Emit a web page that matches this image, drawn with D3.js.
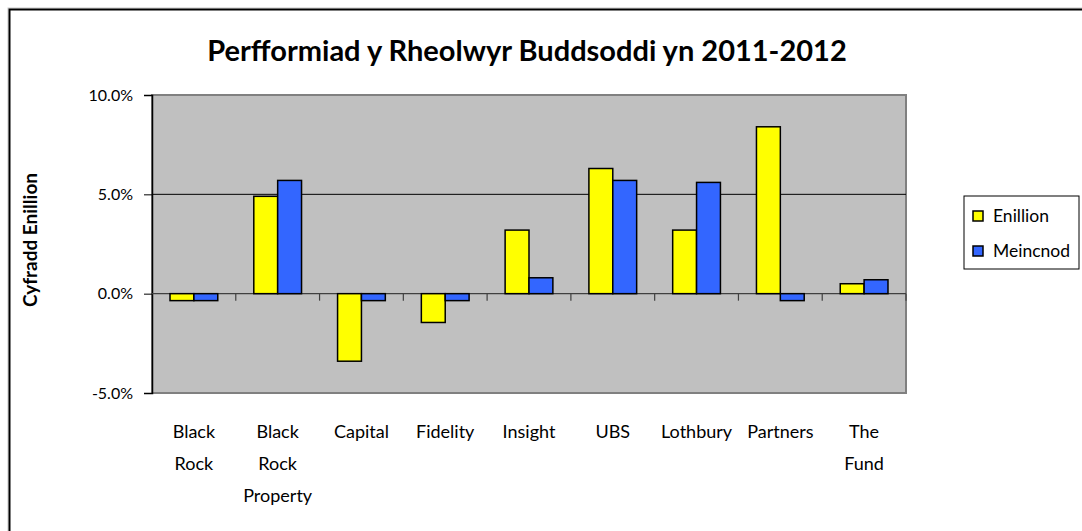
<!DOCTYPE html>
<html>
<head>
<meta charset="utf-8">
<script src="https://cdn.jsdelivr.net/npm/d3@7"></script>
<style>
  body { margin: 0; background: #fff; }
  text { font-family: Lato, "Open Sans", sans-serif; fill: #000; }
</style>
</head>
<body>
<svg id="chart" width="1082" height="531"></svg>
<script>
"use strict";

// chart data
var managers = [
  ["Black", "Rock"],
  ["Black", "Rock", "Property"],
  ["Capital"],
  ["Fidelity"],
  ["Insight"],
  ["UBS"],
  ["Lothbury"],
  ["Partners"],
  ["The", "Fund"]
];
var seriesNames = ["Enillion", "Meincnod"];
var enillion = [-0.35, 4.9, -3.4, -1.45, 3.2, 6.3, 3.2, 8.4, 0.5];
var meincnod = [-0.35, 5.7, -0.35, -0.35, 0.8, 5.7, 5.6, -0.35, 0.7];
var yTicks = [-5, 0, 5, 10];
var colors = ["#ffff00", "#3366ff"];

var svg = d3.select("#chart");

// outer chart border (cut off on right/bottom)
svg.append("rect")
  .attr("x", 8).attr("y", 8)
  .attr("width", 1200).attr("height", 600)
  .attr("fill", "none").attr("stroke", "#c8c8c8").attr("stroke-width", 1);
svg.append("rect")
  .attr("x", 9.5).attr("y", 9.5)
  .attr("width", 1200).attr("height", 600)
  .attr("fill", "none").attr("stroke", "#000").attr("stroke-width", 2);

var margin = { left: 152, top: 95, right: 906, bottom: 393 };

var x = d3.scaleBand()
  .domain(d3.range(managers.length))
  .range([margin.left, margin.right])
  .paddingInner(0.43).paddingOuter(0.215);

var x1 = d3.scaleBand()
  .domain(seriesNames)
  .range([0, x.bandwidth()]);

var y = d3.scaleLinear()
  .domain([-5, 10])
  .range([margin.bottom, margin.top]);

// plot area
svg.append("rect")
  .attr("x", margin.left).attr("y", margin.top)
  .attr("width", margin.right - margin.left)
  .attr("height", margin.bottom - margin.top)
  .attr("fill", "#c0c0c0")
  .attr("stroke", "#808080").attr("stroke-width", 2);

// gridlines
svg.append("g").selectAll("line")
  .data([5])
  .enter().append("line")
  .attr("x1", margin.left).attr("x2", margin.right)
  .attr("y1", function(d) { return y(d); })
  .attr("y2", function(d) { return y(d); })
  .attr("stroke", "#000").attr("stroke-width", 1);

// y axis
var yAxis = svg.append("g")
  .attr("transform", "translate(" + margin.left + ",0)")
  .call(d3.axisLeft(y).tickValues(yTicks).tickSize(8).tickPadding(11)
    .tickFormat(function(d) { return d.toFixed(1) + "%"; }));
yAxis.select(".domain").attr("stroke", "#000").attr("stroke-width", 1.5);
yAxis.selectAll(".tick line").attr("stroke", "#000");
yAxis.selectAll("text").style("font-size", "16px")
  .style("font-family", "Lato, sans-serif");

// zero axis line + category ticks
svg.append("line")
  .attr("x1", margin.left).attr("x2", margin.right)
  .attr("y1", y(0)).attr("y2", y(0))
  .attr("stroke", "#404040").attr("stroke-width", 1.2);

svg.append("g").selectAll("line")
  .data(d3.range(1, managers.length + 1))
  .enter().append("line")
  .attr("x1", function(d) { return margin.left + d * (margin.right - margin.left) / managers.length; })
  .attr("x2", function(d) { return margin.left + d * (margin.right - margin.left) / managers.length; })
  .attr("y1", y(0)).attr("y2", y(0) + 7)
  .attr("stroke", "#404040").attr("stroke-width", 1.2);

// bars
var rows = managers.map(function(m, i) {
  return { i: i, vals: [enillion[i], meincnod[i]] };
});

var groups = svg.append("g").selectAll("g")
  .data(rows)
  .enter().append("g")
  .attr("transform", function(d) { return "translate(" + x(d.i) + ",0)"; });

groups.selectAll("rect")
  .data(function(d) { return d.vals.map(function(v, k) { return { k: k, v: v }; }); })
  .enter().append("rect")
  .attr("x", function(d) { return x1(seriesNames[d.k]); })
  .attr("width", x1.bandwidth())
  .attr("y", function(d) { return y(Math.max(0, d.v)); })
  .attr("height", function(d) { return Math.abs(y(d.v) - y(0)); })
  .attr("fill", function(d) { return colors[d.k]; })
  .attr("stroke", "#000").attr("stroke-width", 1.5);

// category labels
var labels = svg.append("g").selectAll("text")
  .data(rows)
  .enter().append("text")
  .attr("text-anchor", "middle")
  .style("font-size", "18px")
  .attr("x", function(d) { return x(d.i) + x.bandwidth() / 2; })
  .attr("y", 438);
labels.selectAll("tspan")
  .data(function(d) { return managers[d.i]; })
  .enter().append("tspan")
  .attr("x", function() { return d3.select(this.parentNode).attr("x"); })
  .attr("dy", function(d, k) { return k === 0 ? 0 : 32; })
  .text(function(d) { return d; });

// title
svg.append("text")
  .attr("x", 527).attr("y", 61)
  .attr("text-anchor", "middle")
  .style("font-size", "29px").style("font-weight", "bold")
  .text("Perfformiad y Rheolwyr Buddsoddi yn 2011-2012");

// y axis title
svg.append("text")
  .attr("transform", "translate(37,240) rotate(-90)")
  .attr("text-anchor", "middle")
  .style("font-size", "19px").style("font-weight", "bold")
  .text("Cyfradd Enillion");

// legend
var legend = svg.append("g").attr("transform", "translate(964,196)");
legend.append("rect")
  .attr("width", 115).attr("height", 73)
  .attr("fill", "#fff").attr("stroke", "#000").attr("stroke-width", 1);
var li = legend.selectAll("g.item")
  .data(seriesNames)
  .enter().append("g")
  .attr("transform", function(d, k) { return "translate(9," + (15 + k * 35) + ")"; });
li.append("rect")
  .attr("width", 10).attr("height", 10)
  .attr("fill", function(d, k) { return colors[k]; })
  .attr("stroke", "#000").attr("stroke-width", 1.5);
li.append("text")
  .attr("x", 20).attr("y", 11)
  .style("font-size", "17.5px")
  .text(function(d) { return d; });
</script>
</body>
</html>
